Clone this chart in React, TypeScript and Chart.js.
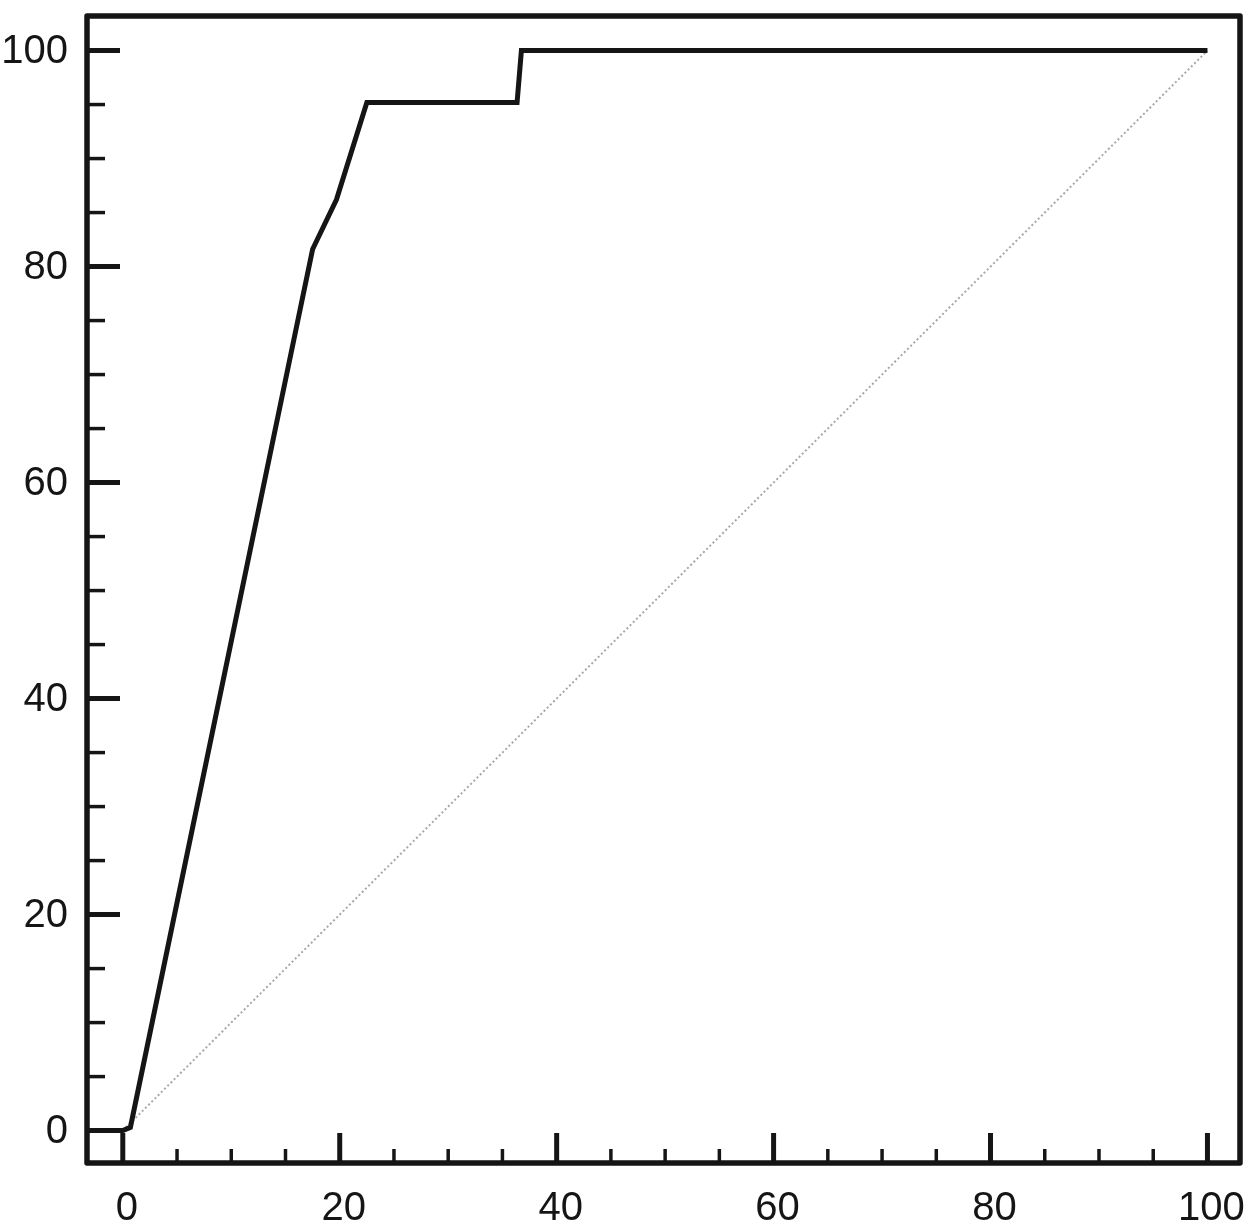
import React, { useEffect, useRef } from "react";
import { Chart, registerables } from "chart.js";

Chart.register(...registerables);

// ROC curve: 100 - Specificity (x) vs Sensitivity (y)
const rocFalsePositiveRate = [-3.3, 0, 0.7, 17.5, 19.7, 22.5, 36.35, 36.75, 100];
const rocSensitivity = [0, 0, 0.3, 81.6, 86.2, 95.2, 95.2, 100, 100];

const diagonalX = [0, 100];
const diagonalY = [0, 100];

const tickValues = [0, 5, 10, 15, 20, 25, 30, 35, 40, 45, 50, 55, 60, 65, 70, 75, 80, 85, 90, 95, 100];
const labeledTicks = [0, 20, 40, 60, 80, 100];

const INK = "#151515";
const FONT = "'Liberation Sans', Arial, Helvetica, sans-serif";

const framePlugin = {
  id: "frameAndTicks",
  afterDatasetsDraw(chart: any) {
    const { ctx, chartArea, scales } = chart;
    const { left, right, top, bottom } = chartArea;
    ctx.save();
    ctx.strokeStyle = INK;
    ctx.lineCap = "butt";
    for (const v of tickValues) {
      const y = scales.y.getPixelForValue(v);
      const major = labeledTicks.includes(v);
      ctx.lineWidth = major ? 5 : 3.5;
      ctx.beginPath();
      ctx.moveTo(left, y);
      ctx.lineTo(left + (major ? 33 : 18), y);
      ctx.stroke();
    }
    for (const v of tickValues) {
      const x = scales.x.getPixelForValue(v);
      const major = labeledTicks.includes(v);
      ctx.lineWidth = major ? 5 : 3.5;
      ctx.beginPath();
      ctx.moveTo(x, bottom);
      ctx.lineTo(x, bottom - (major ? 30 : 14));
      ctx.stroke();
    }
    ctx.lineWidth = 5.5;
    ctx.lineJoin = "round";
    ctx.strokeRect(left, top, right - left, bottom - top);
    ctx.restore();
  },
};

const zeroPadding = (scale: any) => {
  scale.paddingTop = 0;
  scale.paddingBottom = 0;
  scale.paddingLeft = 0;
  scale.paddingRight = 0;
};

export default function App() {
  const canvasRef = useRef<HTMLCanvasElement | null>(null);

  useEffect(() => {
    const canvas = canvasRef.current;
    if (!canvas) return;
    const rocData = rocFalsePositiveRate.map((x, i) => ({ x, y: rocSensitivity[i] }));
    const diagData = diagonalX.map((x, i) => ({ x, y: diagonalY[i] }));

    const chart = new Chart(canvas, {
      type: "line",
      data: {
        datasets: [
          {
            label: "ROC",
            data: rocData,
            borderColor: INK,
            borderWidth: 5,
            pointRadius: 0,
            tension: 0,
            fill: false,
            borderJoinStyle: "miter",
          },
          {
            label: "Reference",
            data: diagData,
            borderColor: "#a8a8a8",
            borderWidth: 2,
            borderDash: [2, 2.5],
            pointRadius: 0,
            tension: 0,
            fill: false,
          },
        ],
      },
      options: {
        responsive: false,
        animation: false,
        layout: { padding: { top: 16, right: 17, bottom: 0, left: 0 } },
        plugins: {
          legend: { display: false },
          tooltip: { enabled: false },
          title: { display: false },
        },
        scales: {
          x: {
            type: "linear",
            min: -3.3,
            max: 103,
            grid: { display: false, drawTicks: false, tickLength: 0 },
            border: { display: false },
            afterBuildTicks: (scale: any) => {
              scale.ticks = tickValues.map((v) => ({ value: v }));
            },
            afterFit: (scale: any) => {
              scale.height = 66;
              zeroPadding(scale);
            },
            ticks: {
              autoSkip: false,
              maxRotation: 0,
              minRotation: 0,
              padding: 22,
              labelOffset: 4,
              color: INK,
              font: { family: FONT, size: 40 },
              callback: (v: any) => (labeledTicks.includes(Number(v)) ? String(v) : ""),
            },
          },
          y: {
            type: "linear",
            min: -3,
            max: 103.2,
            grid: { display: false, drawTicks: false, tickLength: 0 },
            border: { display: false },
            afterBuildTicks: (scale: any) => {
              scale.ticks = tickValues.map((v) => ({ value: v }));
            },
            afterFit: (scale: any) => {
              scale.width = 87;
              zeroPadding(scale);
            },
            ticks: {
              autoSkip: false,
              padding: 19,
              labelOffset: 1,
              color: INK,
              font: { family: FONT, size: 40 },
              callback: (v: any) => (labeledTicks.includes(Number(v)) ? String(v) : ""),
            },
          },
        },
      },
      plugins: [framePlugin],
    });
    return () => chart.destroy();
  }, []);

  return (
    <div style={{ position: "absolute", left: 0, top: 0, width: 1257, height: 1229, background: "#fff" }}>
      <canvas ref={canvasRef} width={1257} height={1229} style={{ display: "block" }} />
    </div>
  );
}
